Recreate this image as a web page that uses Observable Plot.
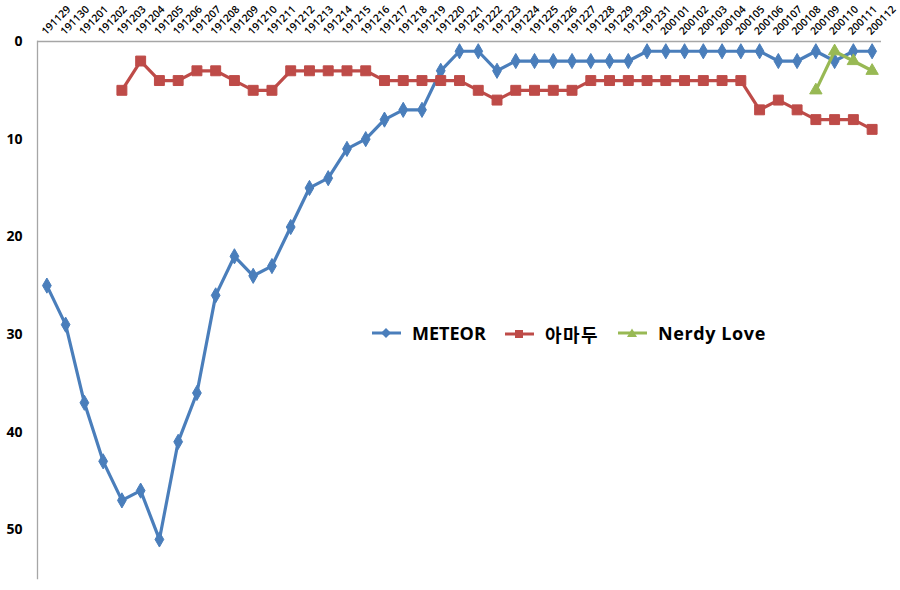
<!DOCTYPE html>
<html>
<head>
<meta charset="utf-8">
<script src="https://cdn.jsdelivr.net/npm/d3@7"></script>
<script src="https://cdn.jsdelivr.net/npm/@observablehq/plot@0.6"></script>
<style>
  html, body { margin: 0; padding: 0; background: #fff; }
  #wrap { position: relative; width: 900px; height: 590px; font-family: "Open Sans", "Noto Sans CJK KR", sans-serif; }
  .item { position: absolute; top: 321px; display: flex; align-items: center; font-weight: bold; font-size: 18px; color: #000; white-space: nowrap; }
  .item svg { margin-right: 11px; }
</style>
</head>
<body>
<div id="wrap"></div>
<script>
const dates = ["191129","191130","191201","191202","191203","191204","191205","191206","191207","191208","191209","191210","191211","191212","191213","191214","191215","191216","191217","191218","191219","191220","191221","191222","191223","191224","191225","191226","191227","191228","191229","191230","191231","200101","200102","200103","200104","200105","200106","200107","200108","200109","200110","200111","200112"];
const meteor = [25,29,37,43,47,46,51,41,36,26,22,24,23,19,15,14,11,10,8,7,7,3,1,1,3,2,2,2,2,2,2,2,1,1,1,1,1,1,1,2,2,1,2,1,1];
const amadu = [null,null,null,null,5,2,4,4,3,3,4,5,5,3,3,3,3,3,4,4,4,4,4,5,6,5,5,5,5,4,4,4,4,4,4,4,4,4,7,6,7,8,8,8,9];
const nerdy = [null,null,null,null,null,null,null,null,null,null,null,null,null,null,null,null,null,null,null,null,null,null,null,null,null,null,null,null,null,null,null,null,null,null,null,null,null,null,null,null,null,5,1,2,3];
const seriesNames = ["METEOR", "아마두", "Nerdy Love"];
const yTicks = [0, 10, 20, 30, 40, 50];

const colors = ["#4A7EBB", "#BE4B48", "#98B954"];
const symbols = ["diamond", "square", "triangle"];
const radii = [4.6, 5.6, 4.6];
const seriesValues = [meteor, amadu, nerdy];

const tables = seriesValues.map((vals, s) =>
  dates.map((d, i) => ({date: d, value: vals[i], series: seriesNames[s]})).filter(r => r.value != null)
);

const marks = [
  Plot.ruleY([0], {stroke: "#A6A6A6", strokeWidth: 1.3}),
  Plot.frame({anchor: "left", stroke: "#A6A6A6", strokeWidth: 1.3}),
  Plot.axisY(yTicks, {tickSize: 0, tickPadding: 15, fontSize: 14, fontWeight: "bold", fill: "#000", label: null}),
  Plot.text(dates, {x: d => d, frameAnchor: "top", dy: -6, dx: -1, rotate: -45, textAnchor: "start", lineAnchor: "bottom", fontSize: 10.5, fontWeight: 600, fill: "#000"})
];
tables.forEach((t, s) => {
  marks.push(Plot.line(t, {x: "date", y: "value", stroke: colors[s], strokeWidth: 3.2}));
  marks.push(Plot.dot(t, {x: "date", y: "value", symbol: () => symbols[s], r: radii[s], fill: colors[s], stroke: colors[s], strokeWidth: 1}));
});

const chart = Plot.plot({
  width: 900,
  height: 590,
  marginTop: 41,
  marginLeft: 37,
  marginRight: 19,
  marginBottom: 12,
  style: {fontFamily: '"Open Sans", "Noto Sans CJK KR", sans-serif', background: "#fff"},
  x: {type: "point", domain: dates, padding: 0.5, axis: null},
  y: {domain: [0, 55], reverse: true, axis: null},
  symbol: {type: "identity"},
  marks
});
const wrap = document.getElementById("wrap");
wrap.appendChild(chart);

const legendLeft = [372, 505, 618];
const legendSpacing = ["0px", "1.5px", "0.6px"];
const shapes = [
  '<path d="M14,1 L19,6 L14,11 L9,6 Z"/>',
  '<rect x="10" y="2" width="8" height="8"/>',
  '<path d="M14,1.5 L19,10 L9,10 Z"/>'
];
seriesNames.forEach((name, s) => {
  const item = document.createElement("div");
  item.className = "item";
  item.style.left = legendLeft[s] + "px";
  item.style.letterSpacing = legendSpacing[s];
  item.innerHTML = `<svg width="29" height="12"><line x1="0" y1="6" x2="29" y2="6" stroke="${colors[s]}" stroke-width="3"/><g fill="${colors[s]}">${shapes[s]}</g></svg><span>${name}</span>`;
  wrap.appendChild(item);
});
</script>
</body>
</html>
